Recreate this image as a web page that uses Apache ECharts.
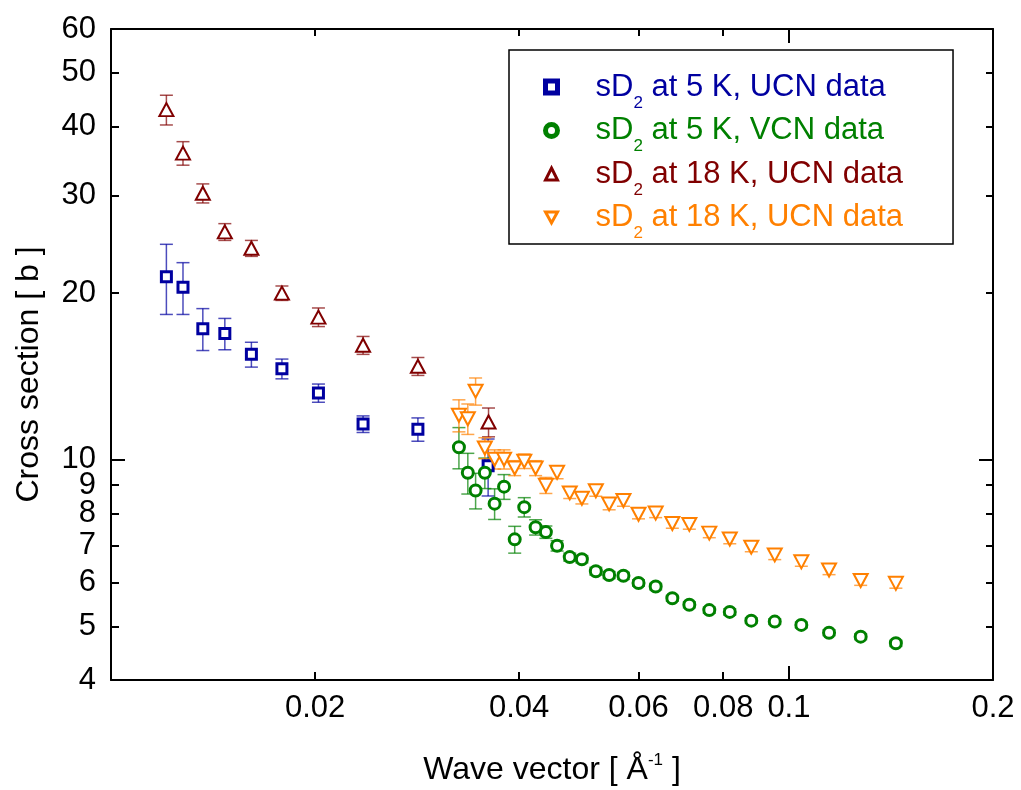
<!DOCTYPE html>
<html>
<head>
<meta charset="utf-8">
<title>Cross section vs wave vector</title>
<script src="https://cdn.jsdelivr.net/npm/echarts@6/dist/echarts.min.js"></script>
<style>
  html, body { margin: 0; padding: 0; background: #fff; }
  #main { width: 1021px; height: 790px; }
</style>
</head>
<body>
<div id="main"></div>
<script>
// axis ranges and tick labels (log-log plot)
const xRange = [0.01, 0.2]
const yRange = [4, 60]
const xTicks = [0.02, 0.04, 0.06, 0.08, 0.1, 0.2]
const yTicks = [4, 5, 6, 7, 8, 9, 10, 20, 30, 40, 50, 60]
const xDecades = [0.1]
const yDecades = [10]

// sD2 at 5 K, UCN data
const ucn5X = [0.01207, 0.01277, 0.01366, 0.01472, 0.01611, 0.01787, 0.02023, 0.02354, 0.02836, 0.0360]
const ucn5Y = [21.4, 20.5, 17.25, 16.9, 15.5, 14.6, 13.2, 11.6, 11.35, 9.75]
const ucn5Err = [3.1, 2.2, 1.5, 1.1, 0.8, 0.6, 0.5, 0.4, 0.55, 1.15]

// sD2 at 5 K, VCN data
const vcn5X = [0.0326, 0.0336, 0.0345, 0.0356, 0.0368, 0.0380, 0.0394, 0.0407, 0.0423, 0.0438,
  0.0455, 0.0475, 0.0495, 0.0519, 0.0543, 0.0570, 0.0600, 0.0636, 0.0673, 0.0713,
  0.0763, 0.0818, 0.0880, 0.0953, 0.1043, 0.1146, 0.1276, 0.1438]
const vcn5Y = [10.53, 9.47, 8.8, 9.47, 8.33, 8.94, 7.18, 8.21, 7.55, 7.40,
  6.99, 6.67, 6.61, 6.29, 6.19, 6.17, 5.99, 5.90, 5.62, 5.47,
  5.35, 5.31, 5.12, 5.10, 5.03, 4.87, 4.79, 4.66]
const vcn5Err = [0.9, 0.8, 0.65, 0.6, 0.53, 0.46, 0.4, 0.33, 0.24, 0.19,
  0.15, 0.11, 0.1, 0.1, 0.09, 0.09, 0.08, 0.08, 0.07, 0.07,
  0.07, 0.07, 0.06, 0.06, 0.06, 0.06, 0.06, 0.06]

// sD2 at 18 K, UCN data (triangles up)
const ucn18X = [0.01207, 0.01277, 0.01366, 0.01472, 0.01611, 0.01787, 0.02023, 0.02354, 0.02836, 0.03605]
const ucn18Y = [42.9, 35.8, 30.3, 25.8, 24.1, 20.0, 18.1, 16.1, 14.75, 11.7]
const ucn18Err = [2.65, 1.75, 1.2, 0.9, 0.8, 0.6, 0.7, 0.6, 0.55, 0.7]

// sD2 at 18 K, UCN data (triangles down)
const ucn18bX = [0.0326, 0.0336, 0.0345, 0.0356, 0.0368, 0.0380, 0.0394, 0.0407, 0.0423, 0.0438,
  0.0455, 0.0475, 0.0495, 0.0519, 0.0543, 0.0570, 0.0600, 0.0636, 0.0673, 0.0713,
  0.0763, 0.0818, 0.0880, 0.0953, 0.1043, 0.1146, 0.1276, 0.1438]
const ucn18bY = [12.03, 11.86, 13.30, 10.50, 10.02, 10.02, 9.66, 9.94, 9.66, 8.99,
  9.49, 8.71, 8.52, 8.79, 8.32, 8.44, 7.97, 8.01, 7.67, 7.64,
  7.37, 7.19, 6.95, 6.73, 6.54, 6.32, 6.05, 5.98]
const ucn18bErr = [0.8, 0.75, 0.75, 0.46, 0.4, 0.4, 0.3, 0.3, 0.3, 0.3,
  0.25, 0.2, 0.2, 0.2, 0.2, 0.2, 0.15, 0.15, 0.15, 0.15,
  0.14, 0.14, 0.13, 0.13, 0.12, 0.12, 0.12, 0.12]

const fontFamily = '"Liberation Sans", Arial, Helvetica, sans-serif'
const lg = Math.log10

// one entry per data set, legend order
const sets = [
  { name: 'sD2 at 5 K, UCN data', color: '#0000a0', xs: ucn5X, ys: ucn5Y, errs: ucn5Err, symbol: 'rect', size: 10, bw: 3, rotate: 0, icon: 'rect', iconBw: 5 },
  { name: 'sD2 at 5 K, VCN data', color: '#008000', xs: vcn5X, ys: vcn5Y, errs: vcn5Err, symbol: 'circle', size: 11, bw: 3, rotate: 0, icon: 'circle', iconBw: 5 },
  { name: 'sD2 at 18 K, UCN data', color: '#800000', xs: ucn18X, ys: ucn18Y, errs: ucn18Err, symbol: 'triangle', size: [14, 13], bw: 2, rotate: 0, icon: 'triangle', iconBw: 3 },
  // same label as above in the original, trailing space keeps the legend entries apart
  { name: 'sD2 at 18 K, UCN data ', color: '#ff8000', xs: ucn18bX, ys: ucn18bY, errs: ucn18bErr, symbol: 'triangle', size: [14, 13], bw: 2, rotate: 180, icon: 'path://M0,0L10,0L5,9Z', iconBw: 3 }
]

function tickText (ticks, v) {
  const t = ticks.find(t => Math.abs(lg(t) - v) < 1e-6)
  return t === undefined ? '' : String(t)
}

function logAxis (range, position, tickVals, tickLen, showLine, label, extra) {
  return Object.assign({
    type: 'value',
    position,
    min: lg(range[0]),
    max: lg(range[1]),
    splitLine: { show: false },
    axisLine: { show: showLine, onZero: false, lineStyle: { color: '#000', width: 2 } },
    axisTick: {
      show: true,
      inside: true,
      length: tickLen,
      customValues: tickVals.map(lg),
      lineStyle: { color: '#000', width: 2 }
    },
    axisLabel: label || { show: false }
  }, extra || {})
}

const labelStyle = { fontFamily, fontSize: 31, color: '#000' }

const xAxes = [
  logAxis(xRange, 'bottom', xTicks, 8, true, Object.assign({
    customValues: xTicks.map(lg),
    formatter: v => tickText(xTicks, v),
    margin: 13
  }, labelStyle), {
    name: '{nm|Wave vector [ Å}{sup|-1}{nm| ]}',
    nameLocation: 'middle',
    nameGap: 72,
    nameTextStyle: {
      fontFamily,
      color: '#000',
      rich: {
        nm: { fontFamily, fontSize: 32, lineHeight: 36, color: '#000' },
        sup: { fontFamily, fontSize: 17, lineHeight: 16, verticalAlign: 'top', color: '#000' }
      }
    }
  }),
  logAxis(xRange, 'bottom', xDecades, 14, false),
  logAxis(xRange, 'top', xTicks, 7, true),
  logAxis(xRange, 'top', xDecades, 14, false)
]

const yAxes = [
  logAxis(yRange, 'left', yTicks, 8, true, Object.assign({
    customValues: yTicks.map(lg),
    formatter: v => tickText(yTicks, v),
    margin: 15
  }, labelStyle), {
    name: 'Cross section [ b ]',
    nameLocation: 'middle',
    nameGap: 66,
    nameTextStyle: { fontFamily, fontSize: 32, color: '#000', padding: [0, 40, 0, 0] }
  }),
  logAxis(yRange, 'left', yDecades, 14, false),
  logAxis(yRange, 'right', yTicks, 7, true),
  logAxis(yRange, 'right', yDecades, 14, false)
]

function scatterSeries (s) {
  return {
    type: 'scatter',
    name: s.name,
    symbol: s.symbol,
    symbolSize: s.size,
    symbolRotate: s.rotate,
    itemStyle: { color: '#fff', borderColor: s.color, borderWidth: s.bw, opacity: 1 },
    data: s.xs.map((x, i) => [lg(x), lg(s.ys[i])]),
    silent: true
  }
}

function errorSeries (s) {
  return {
    type: 'custom',
    name: s.name + ' error',
    silent: true,
    renderItem (params, api) {
      const x = api.value(0)
      const lo = api.coord([x, api.value(1)])
      const hi = api.coord([x, api.value(2)])
      const w = 6.5
      const style = { stroke: s.color, lineWidth: 1.5, opacity: 0.7 }
      return {
        type: 'group',
        children: [
          { type: 'line', shape: { x1: lo[0], y1: lo[1], x2: hi[0], y2: hi[1] }, style },
          { type: 'line', shape: { x1: lo[0] - w, y1: lo[1], x2: lo[0] + w, y2: lo[1] }, style },
          { type: 'line', shape: { x1: hi[0] - w, y1: hi[1], x2: hi[0] + w, y2: hi[1] }, style }
        ]
      }
    },
    encode: { x: 0, y: [1, 2] },
    data: s.xs.map((x, i) => [lg(x), lg(s.ys[i] - s.errs[i]), lg(s.ys[i] + s.errs[i])])
  }
}

const series = []
sets.forEach(s => {
  series.push(scatterSeries(s))
  series.push(errorSeries(s))
})

const option = {
  backgroundColor: '#fff',
  animation: false,
  grid: { left: 111, right: 28, top: 29, bottom: 110, outerBoundsMode: 'none' },
  xAxis: xAxes,
  yAxis: yAxes,
  legend: {
    orient: 'vertical',
    left: 509,
    top: 50,
    padding: [15, 50, 2, 34],
    itemGap: -3,
    itemWidth: 12,
    itemHeight: 12,
    borderColor: '#000',
    borderWidth: 1.5,
    selectedMode: false,
    data: sets.map(s => ({
      name: s.name,
      icon: s.icon,
      itemStyle: { borderWidth: s.iconBw },
      textStyle: { color: s.color }
    })),
    formatter: n => '{lt|sD}{sb|2}{lt|' + n.trim().slice(3) + '}',
    textStyle: {
      fontFamily,
      fontSize: 31,
      lineHeight: 44,
      padding: [0, 0, 0, 33],
      rich: {
        lt: { fontFamily, fontSize: 31, lineHeight: 44 },
        sb: { fontFamily, fontSize: 17, lineHeight: 44, height: 12, verticalAlign: 'bottom' }
      }
    }
  },
  series
}

const chart = echarts.init(document.getElementById('main'))
chart.setOption(option)
</script>
</body>
</html>
